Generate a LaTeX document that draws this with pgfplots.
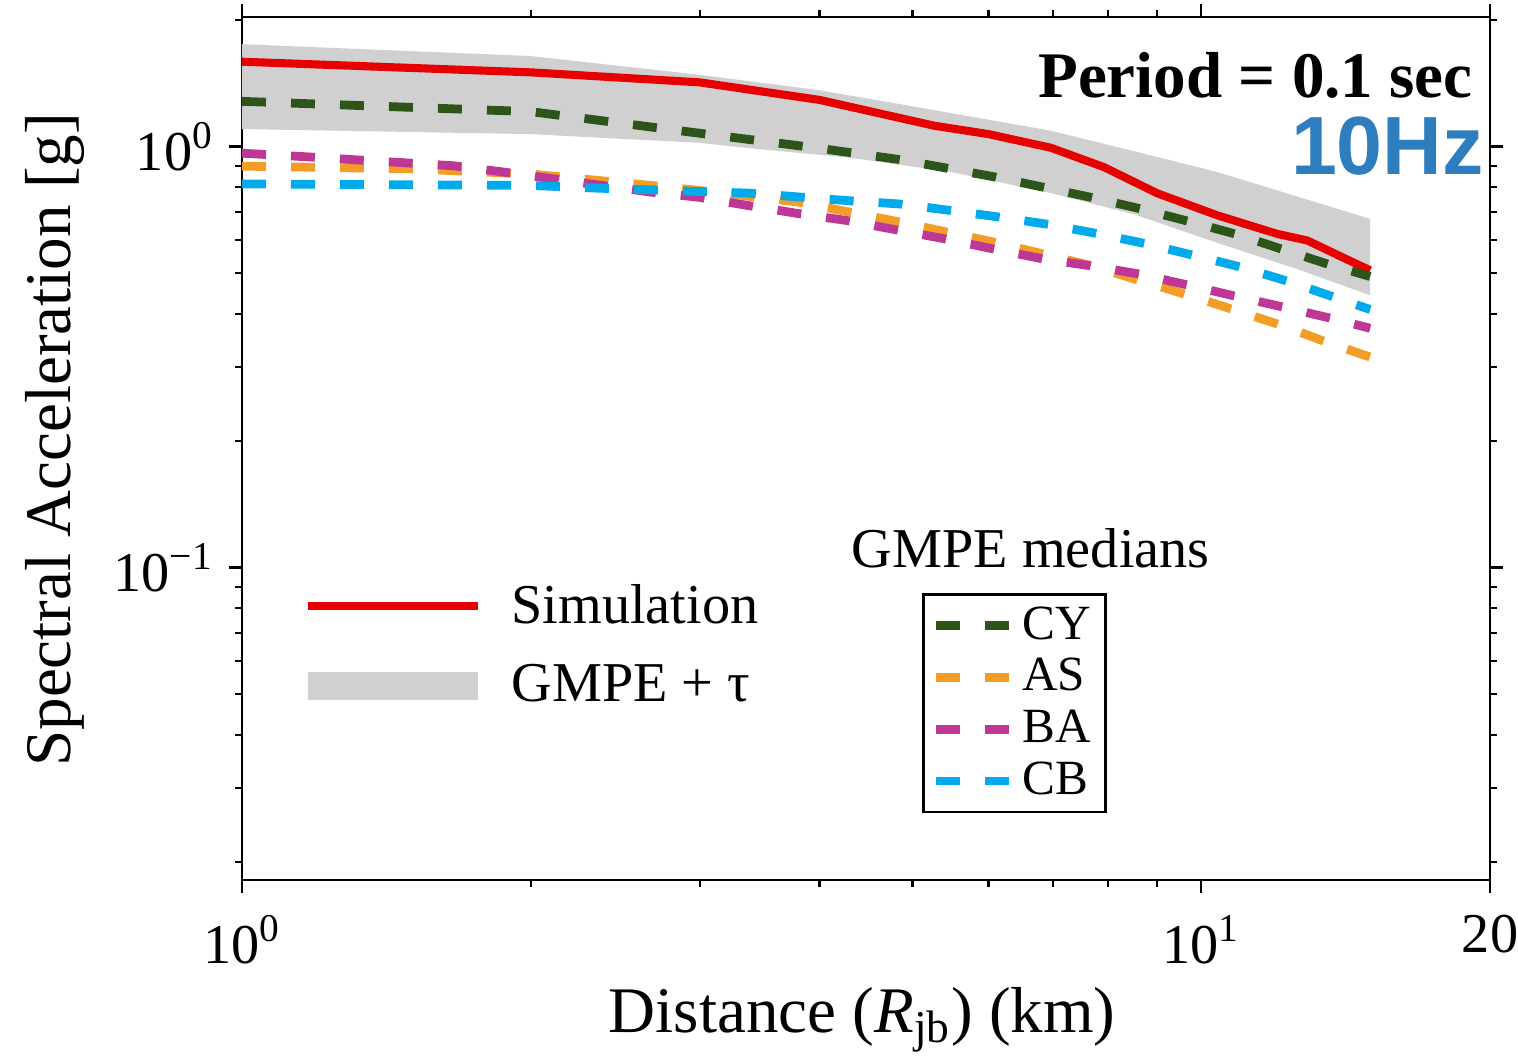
\documentclass[border=0pt]{standalone}
\usepackage{pgfplots}
\pgfplotsset{compat=1.18}
\usepackage{fontspec}
\setmainfont{Liberation Serif}
\newfontfamily\hzfont{Liberation Sans}

\definecolor{simred}{RGB}{230,0,0}
\definecolor{bandgray}{RGB}{208,208,208}
\definecolor{cygreen}{RGB}{45,85,25}
\definecolor{asorange}{RGB}{243,156,38}
\definecolor{bamag}{RGB}{190,55,150}
\definecolor{cbcyan}{RGB}{0,170,235}
\definecolor{hzblue}{RGB}{46,125,190}

\pgfplotsset{
  gmpeline/.style={line width=2.5pt, dash pattern=on 0.24cm off 0.25cm,
    legend image code/.code={\draw[##1] (0cm,0cm) -- (0.75cm,0cm);}},
  simline/.style={simred, line width=2.3pt,
    legend image code/.code={\draw[simred, line width=2.3pt] (0cm,0cm) -- (1.7cm,0cm);
      \path (1.92cm,0cm);}},
  bandfill/.style={fill=bandgray, draw=none,
    legend image code/.code={\fill[bandgray] (0cm,-0.14cm) rectangle (1.7cm,0.14cm);
      \path (1.92cm,0cm);}},
}

\begin{document}
\begin{tikzpicture}
\useasboundingbox (-2.42cm,-1.78cm) rectangle (12.76cm,8.80cm);

% band + simulation, with the first legend
\begin{axis}[
  xmode=log, ymode=log,
  scale only axis, width=12.48cm, height=8.63cm,
  xmin=1, xmax=20, ymin=0.0181, ymax=2.03,
  axis line style={line width=0.7pt},
  tick style={line width=0.6pt, black},
  tick align=outside,
  major tick length=0.13cm, minor tick length=0.07cm,
  xtick={1,10,20}, xticklabels={10\textsuperscript{0},10\textsuperscript{1},20},
  minor xtick={2,3,4,5,6,7,8,9},
  ytick={0.1,1}, yticklabels={10\textsuperscript{−1},10\textsuperscript{0}},
  minor ytick={0.02,0.03,0.04,0.05,0.06,0.07,0.08,0.09,0.2,0.3,0.4,0.5,0.6,0.7,0.8,0.9,2},
  ticklabel style={font=\fontsize{16}{19}\selectfont},
  xticklabel style={yshift=-0.1cm},
  yticklabel style={xshift=-0.03cm},
  xlabel={Distance (\textit{R}\textsubscript{jb}) (km)},
  ylabel={Spectral Acceleration [g]},
  label style={font=\fontsize{18.5}{22}\selectfont},
  xlabel style={at={(axis description cs:0.497,-0.162)}, anchor=center},
  ylabel style={at={(axis description cs:-0.150,0.51)}, anchor=center},
  reverse legend,
  legend cell align=left,
  legend style={at={(rel axis cs:0.041,0.36)}, anchor=north west,
    draw=none, fill=none, font=\fontsize{16}{19}\selectfont,
    row sep=0.22cm},
]
\addplot[bandfill] coordinates {
  (1,1.75) (2,1.64) (3,1.48) (4,1.36) (4.86,1.26) (6.97,1.09) (8.5,0.975)
  (10.4,0.869) (12.7,0.756) (15,0.673)
  (15,0.443) (12.7,0.508) (10.4,0.59) (8.51,0.69) (6.97,0.775) (5.48,0.87)
  (4.31,0.94) (3.39,0.99) (3,1.02) (2,1.07) (1,1.10)
  } -- cycle;
\addlegendentry{GMPE + τ}
\addplot[simline] coordinates {
  (1,1.59) (2,1.50) (3,1.42) (4,1.29) (5.27,1.12) (6,1.07) (6.97,0.993)
  (7.92,0.893) (9,0.774) (10.4,0.686) (12,0.62) (12.9,0.598) (14,0.547) (15,0.508)
  };
\addlegendentry{Simulation}

\node[anchor=base east, font=\bfseries\fontsize{18.5}{22}\selectfont]
  at (rel axis cs:0.996,0.907) {Period = 0.1 sec};
\node[anchor=base east, text=hzblue, font=\hzfont\bfseries\fontsize{23.5}{28}\selectfont]
  at (rel axis cs:1.005,0.817) {10Hz};
\node[anchor=center, font=\fontsize{16}{19}\selectfont]
  at (rel axis cs:0.632,0.385) {GMPE medians};
\end{axis}

% GMPE medians, with the boxed legend
\begin{axis}[
  xmode=log, ymode=log,
  scale only axis, width=12.48cm, height=8.63cm,
  xmin=1, xmax=20, ymin=0.0181, ymax=2.03,
  hide axis,
  legend cell align=left,
  legend style={at={(rel axis cs:0.545,0.3326)}, anchor=north west,
    draw=black, line width=0.8pt, fill=white,
    font=\fontsize{14}{17}\selectfont, row sep=0cm,
    inner xsep=0.08cm, inner ysep=0.05cm},
]
\addplot[gmpeline, cygreen] coordinates {
  (1,1.28) (2,1.21) (3,1.075) (4,0.99) (4.86,0.93) (6.1,0.846) (7.7,0.756)
  (8.67,0.71) (9.7,0.664) (10.9,0.618) (12.2,0.568) (13.6,0.524) (15,0.491)
  };
\addlegendentry{CY}
\addplot[gmpeline, asorange] coordinates {
  (1,0.898) (1.5,0.885) (2,0.86) (2.67,0.808) (3,0.786) (3.8,0.738) (4.86,0.661)
  (6.07,0.593) (6.83,0.556) (7.66,0.522) (8.61,0.481) (9.71,0.443) (10.86,0.408)
  (12.17,0.375) (13.5,0.343) (15,0.316)
  };
\addlegendentry{AS}
\addplot[gmpeline, bamag] coordinates {
  (1,0.964) (1.15,0.947) (1.66,0.90) (1.87,0.87) (2.67,0.779) (3,0.757)
  (3.37,0.724) (3.8,0.693) (4.27,0.667) (4.86,0.631) (5.39,0.604) (6.07,0.571)
  (6.83,0.541) (7.7,0.52) (8.61,0.498) (9.71,0.468) (10.9,0.44) (12.2,0.415)
  (13.7,0.39) (15,0.37)
  };
\addlegendentry{BA}
\addplot[gmpeline, cbcyan] coordinates {
  (1,0.815) (2,0.808) (2.36,0.796) (3.37,0.775) (4.27,0.744) (4.86,0.73)
  (5.47,0.705) (6.15,0.68) (6.93,0.653) (7.79,0.621) (8.74,0.588) (9.83,0.551)
  (11.0,0.517) (12.4,0.476) (13.9,0.435) (15,0.41)
  };
\addlegendentry{CB}
\end{axis}
\end{tikzpicture}
\end{document}
